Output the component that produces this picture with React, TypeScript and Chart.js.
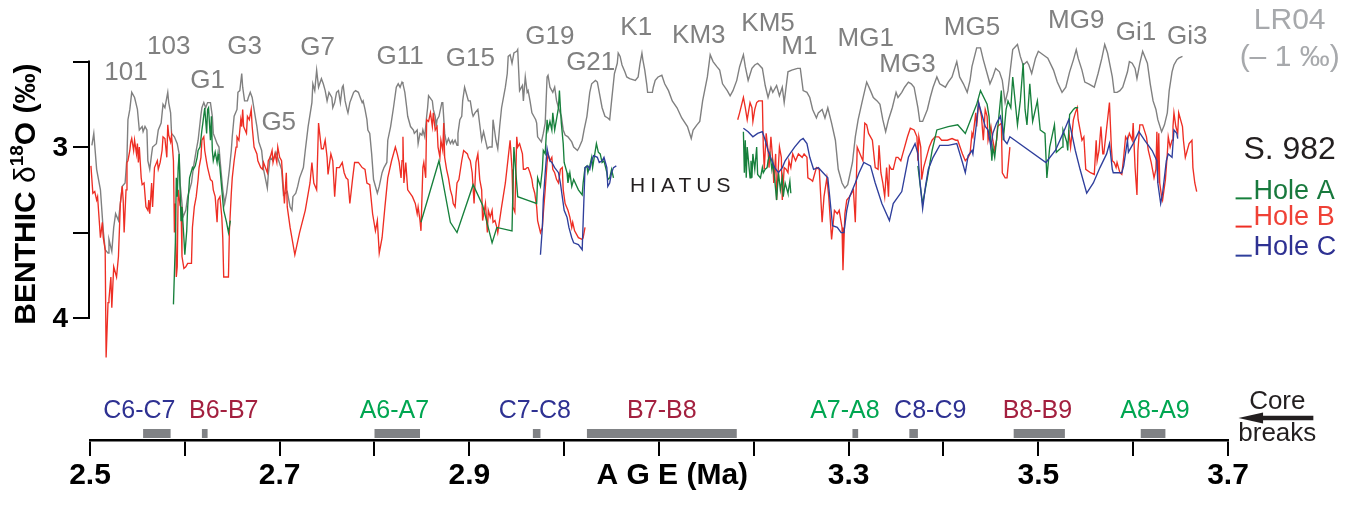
import React, { useEffect, useRef } from 'react';
import { Chart, registerables } from 'chart.js';

Chart.register(...registerables);

const FONT = '"Liberation Sans", Arial, Helvetica, sans-serif';

// ---------- axes ----------
const xTickValues = [2.5, 2.6, 2.7, 2.8, 2.9, 3.0, 3.1, 3.2, 3.3, 3.4, 3.5, 3.6, 3.7];
const xTickLabels = ['2.5', '2.7', '2.9', '3.3', '3.5', '3.7'];
const yTickValues = [2.5, 3, 3.5, 4];
const yTickLabels = ['', '3', '', '4'];

// ---------- LR04 stack (-1 permil) ----------
const lr04Age = [2.502,2.504,2.507,2.511,2.514,2.516,2.519,2.520,2.523,2.525,
2.527,2.530,2.532,2.534,2.537,2.539,2.540,2.542,2.544,2.547,
2.550,2.552,2.555,2.556,2.558,2.560,2.561,2.563,2.565,2.566,
2.570,2.572,2.575,2.577,2.579,2.582,2.583,2.585,2.586,2.589,
2.592,2.594,2.595,2.597,2.598,2.601,2.603,2.607,2.609,2.612,
2.614,2.617,2.618,2.620,2.622,2.624,2.627,2.629,2.630,2.632,
2.634,2.636,2.638,2.640,2.642,2.644,2.647,2.649,2.650,2.652,
2.655,2.656,2.658,2.660,2.661,2.663,2.666,2.667,2.669,2.671,
2.673,2.676,2.678,2.681,2.683,2.687,2.688,2.690,2.693,2.696,
2.699,2.702,2.704,2.708,2.711,2.713,2.714,2.717,2.719,2.721,
2.725,2.727,2.730,2.734,2.735,2.737,2.739,2.741,2.744,2.746,
2.748,2.750,2.752,2.755,2.756,2.758,2.760,2.762,2.764,2.766,
2.767,2.769,2.771,2.772,2.774,2.776,2.778,2.780,2.783,2.785,
2.787,2.788,2.790,2.792,2.793,2.795,2.797,2.799,2.803,2.805,
2.808,2.810,2.813,2.814,2.817,2.820,2.823,2.825,2.827,2.829,
2.830,2.832,2.834,2.835,2.838,2.841,2.842,2.845,2.846,2.848,
2.850,2.851,2.853,2.855,2.856,2.857,2.861,2.862,2.864,2.865,
2.866,2.868,2.871,2.872,2.874,2.876,2.878,2.880,2.882,2.883,
2.885,2.887,2.888,2.890,2.892,2.893,2.895,2.898,2.899,2.901,
2.903,2.904,2.906,2.909,2.913,2.915,2.919,2.921,2.924,2.925,
2.928,2.930,2.932,2.934,2.938,2.940,2.941,2.943,2.945,2.947,
2.950,2.951,2.953,2.956,2.957,2.959,2.961,2.962,2.964,2.966,
2.968,2.970,2.971,2.972,2.976,2.978,2.980,2.982,2.983,2.985,
2.987,2.988,2.990,2.992,2.994,2.997,2.999,3.001,3.004,3.008,
3.010,3.014,3.016,3.019,3.021,3.024,3.027,3.029,3.033,3.035,
3.037,3.040,3.043,3.046,3.048,3.050,3.053,3.056,3.057,3.059,
3.061,3.064,3.066,3.069,3.075,3.078,3.080,3.082,3.083,3.085,
3.087,3.088,3.093,3.094,3.096,3.099,3.103,3.106,3.110,3.114,
3.119,3.124,3.130,3.134,3.136,3.140,3.143,3.146,3.151,3.154,
3.157,3.161,3.164,3.167,3.172,3.175,3.178,3.182,3.185,3.189,
3.191,3.194,3.198,3.201,3.204,3.209,3.212,3.215,3.218,3.220,
3.224,3.227,3.230,3.232,3.236,3.240,3.246,3.249,3.252,3.256,
3.259,3.262,3.266,3.268,3.272,3.275,3.278,3.282,3.286,3.289,
3.293,3.296,3.299,3.304,3.307,3.310,3.314,3.319,3.323,3.326,
3.330,3.333,3.336,3.339,3.342,3.346,3.350,3.352,3.356,3.359,
3.363,3.366,3.369,3.373,3.375,3.378,3.383,3.386,3.389,3.393,
3.396,3.402,3.405,3.409,3.414,3.417,3.421,3.425,3.428,3.430,
3.435,3.439,3.442,3.446,3.449,3.452,3.455,3.459,3.462,3.465,
3.468,3.470,3.473,3.478,3.481,3.484,3.488,3.490,3.493,3.497,
3.500,3.505,3.510,3.516,3.520,3.525,3.529,3.533,3.537,3.540,
3.542,3.546,3.549,3.553,3.559,3.563,3.567,3.570,3.573,3.578,
3.580,3.583,3.586,3.589,3.594,3.596,3.599,3.602,3.604,3.607,
3.610,3.615,3.618,3.621,3.624,3.626,3.630,3.633,3.636,3.638,
3.641,3.643,3.646,3.648,3.652];
const lr04Val = [2.99,2.92,3.13,3.25,3.49,3.60,3.62,3.54,3.61,3.47,
3.39,3.43,3.33,3.23,3.21,3.06,2.84,2.78,2.68,2.71,
2.78,2.90,2.88,2.91,2.88,2.90,3.08,3.13,3.04,3.00,
2.98,2.90,2.86,2.75,2.77,2.68,2.74,2.80,2.92,2.94,
2.98,3.04,3.21,3.33,3.41,3.37,3.29,3.21,3.12,3.02,
2.96,2.81,2.77,2.74,2.77,2.74,2.74,2.82,2.92,2.95,
2.98,3.00,3.13,3.25,3.33,3.27,3.13,3.02,2.94,2.82,
2.78,2.68,2.67,2.57,2.65,2.73,2.73,2.71,2.68,2.71,
2.78,2.88,2.97,3.02,3.13,3.24,3.16,3.06,3.08,3.03,
3.08,3.13,3.28,3.26,3.35,3.37,3.29,3.27,3.23,3.18,
3.12,3.02,2.88,2.74,2.63,2.67,2.55,2.65,2.60,2.63,
2.67,2.73,2.68,2.71,2.77,2.74,2.68,2.67,2.74,2.65,
2.64,2.73,2.78,2.80,2.74,2.71,2.68,2.67,2.68,2.71,
2.74,2.73,2.78,2.84,2.90,2.92,3.04,3.19,3.27,3.23,
3.15,3.12,3.09,2.96,2.88,2.77,2.65,2.63,2.65,2.62,
2.63,2.68,2.77,2.82,2.88,2.90,2.92,2.90,2.98,2.92,
2.93,2.90,2.94,2.82,2.77,2.70,2.73,2.78,2.82,2.88,
2.84,2.82,2.74,2.74,2.92,2.98,2.95,2.98,2.96,2.98,
2.96,2.99,2.92,2.84,2.82,2.73,2.65,2.71,2.73,2.73,
2.80,2.82,2.80,2.78,2.96,2.91,3.01,3.00,3.00,2.84,
2.96,3.01,2.88,2.77,2.65,2.57,2.47,2.46,2.51,2.45,
2.44,2.43,2.67,2.64,2.73,2.59,2.68,2.67,2.73,2.80,
2.82,2.84,2.86,2.94,2.97,2.92,2.86,2.59,2.58,2.65,
2.67,2.68,2.65,2.73,2.77,2.82,2.90,2.93,2.94,2.97,
3.00,3.02,3.00,2.96,2.90,2.82,2.68,2.63,2.61,2.62,
2.68,2.77,2.82,2.83,2.84,2.73,2.57,2.51,2.45,2.47,
2.52,2.56,2.59,2.60,2.61,2.59,2.51,2.45,2.49,2.55,
2.63,2.68,2.68,2.65,2.61,2.59,2.58,2.63,2.67,2.73,
2.77,2.83,2.88,2.95,2.90,2.87,2.85,2.73,2.59,2.46,
2.50,2.53,2.55,2.63,2.67,2.70,2.67,2.61,2.53,2.46,
2.53,2.61,2.54,2.52,2.51,2.54,2.64,2.71,2.65,2.68,
2.64,2.70,2.65,2.74,2.56,2.55,2.54,2.54,2.67,2.68,
2.71,2.78,2.83,2.80,2.78,2.83,2.77,2.86,2.96,3.13,
3.21,3.24,3.22,3.09,2.94,2.84,2.74,2.62,2.67,2.71,
2.73,2.75,2.84,2.91,2.84,2.77,2.68,2.71,2.68,2.65,
2.62,2.63,2.65,2.77,2.85,2.85,2.78,2.71,2.65,2.59,
2.63,2.65,2.62,2.59,2.50,2.59,2.63,2.68,2.61,2.53,
2.42,2.42,2.49,2.57,2.63,2.59,2.54,2.56,2.61,2.74,
2.67,2.57,2.43,2.40,2.47,2.52,2.50,2.52,2.57,2.48,
2.44,2.46,2.48,2.55,2.62,2.68,2.65,2.56,2.49,2.43,
2.48,2.55,2.62,2.63,2.65,2.57,2.48,2.40,2.45,2.59,
2.68,2.68,2.67,2.65,2.56,2.50,2.51,2.54,2.60,2.51,
2.44,2.51,2.63,2.73,2.78,2.84,2.91,2.87,2.80,2.67,
2.56,2.52,2.49,2.48,2.47];

// ---------- Site 982, Hole A (core segments) ----------
const holeA1Age = [2.588,2.590,2.591,2.592,2.593,2.594,2.595,2.596,2.597,2.599,
2.600,2.602,2.603,2.605,2.608,2.609,2.611,2.613,2.614,2.616,
2.618,2.619,2.621,2.623,2.624,2.625,2.627,2.628,2.629,2.630,
2.632,2.634,2.635,2.636,2.637,2.639,2.641,2.644,2.646,2.648];
const holeA1Val = [3.92,3.56,3.18,3.29,3.12,3.04,3.25,3.43,3.35,3.53,
3.63,3.49,3.35,3.18,3.12,3.13,3.11,3.06,3.02,3.00,
2.90,2.86,2.77,2.92,2.78,2.77,2.96,2.82,3.02,3.08,
3.03,3.09,3.04,3.08,3.12,3.25,3.37,3.44,3.50,3.43];
const holeA2Age = [2.849,2.868,2.880,2.887,2.904,2.914,2.924,2.929,2.945,2.947,
2.951,2.961,2.971,2.972,2.975,2.977,2.978,2.980,2.982,2.983,
2.985,2.987,2.988,2.990,2.994,2.995,2.997,2.999,3.000,3.003,
3.004,3.006,3.008,3.010,3.015,3.019,3.020,3.022,3.024,3.025,
3.027,3.029,3.030,3.034,3.036,3.038,3.040,3.042,3.045,3.046,
3.048,3.050,3.052];
const holeA2Val = [3.44,3.08,3.44,3.50,3.22,3.34,3.56,3.47,3.49,3.00,
3.29,3.31,3.33,3.18,3.23,3.13,3.02,3.04,2.84,2.90,
2.85,2.90,2.80,2.90,2.77,2.67,2.86,2.98,3.09,3.15,
3.21,3.15,3.23,3.19,3.25,3.28,3.21,3.12,3.11,3.15,
3.11,3.06,3.12,2.98,3.03,3.04,3.09,3.08,3.15,3.19,
3.18,3.13,3.18];
const holeA3Age = [3.189,3.190,3.191,3.192,3.193,3.195,3.196,3.197,3.198,3.199,
3.201,3.203,3.204,3.207,3.209,3.210,3.212,3.214,3.215,3.217,
3.219,3.220,3.222,3.224,3.226,3.228,3.230,3.231,3.233,3.235,
3.236,3.238,3.239];
const holeA3Val = [2.91,3.15,2.96,3.18,3.00,3.12,3.18,3.08,3.18,3.04,
3.13,3.00,3.16,3.18,3.12,3.15,3.13,3.12,3.08,3.04,
3.13,3.09,3.19,3.31,3.15,3.25,3.18,3.29,3.21,3.25,
3.27,3.20,3.27];
const holeA4Age = [3.373,3.376,3.378,3.383,3.388,3.393,3.405,3.415,3.423,3.430,
3.435,3.439,3.446,3.448,3.451,3.452,3.454,3.457,3.461,3.463,
3.466,3.468,3.471,3.473,3.478,3.481,3.484,3.486,3.488,3.491,
3.494,3.499,3.502,3.507,3.509,3.512,3.517,3.519,3.525,3.526,
3.530,3.531,3.533,3.537,3.539,3.542];
const holeA4Val = [3.11,3.25,3.33,3.18,3.02,2.90,2.88,2.87,2.92,2.82,
2.75,2.67,2.75,2.82,3.08,3.00,3.06,2.90,2.67,2.96,
2.78,2.73,2.77,2.59,2.87,2.73,2.51,2.78,2.87,2.63,
2.85,2.73,2.90,2.92,3.18,3.00,2.87,3.03,3.00,2.90,
2.97,3.02,2.81,2.78,2.77,2.77];

// ---------- Site 982, Hole B ----------
const holeB1Age = [2.501,2.503,2.505,2.507,2.508,2.511,2.513,2.514,2.516,2.517,
2.519,2.520,2.522,2.523,2.525,2.528,2.530,2.532,2.534,2.535,
2.536,2.538,2.539,2.540,2.542,2.543,2.544,2.546,2.547,2.549,
2.550,2.551,2.552,2.554,2.555,2.557,2.559,2.561,2.562,2.563,
2.565,2.566,2.568,2.571,2.572,2.574,2.576,2.577,2.579,2.581,
2.582,2.583,2.585,2.586,2.588,2.589,2.590,2.591,2.592,2.593,
2.595,2.596,2.597,2.599,2.601,2.603,2.607,2.608,2.610,2.612,
2.614,2.615,2.617,2.618,2.620,2.621,2.623,2.624,2.627,2.629,
2.630,2.632,2.634,2.635,2.637,2.639,2.640,2.641,2.644,2.646,
2.647,2.649,2.650,2.652,2.654,2.655,2.657,2.659,2.660,2.661,
2.662,2.665,2.666,2.668,2.670,2.671,2.673,2.676,2.677,2.680,
2.682,2.683,2.687,2.688,2.690,2.692,2.693,2.695,2.697,2.698,
2.700,2.702,2.705,2.707,2.708,2.711,2.716,2.721,2.727,2.732,
2.734,2.736,2.739,2.741,2.744,2.746,2.748,2.750,2.751,2.754,
2.756,2.758,2.760,2.763,2.766,2.768,2.770,2.772,2.774,2.777,
2.779,2.783,2.787,2.790,2.792,2.795,2.798,2.801,2.803,2.805,
2.808,2.811,2.814,2.818,2.822,2.824,2.826,2.828,2.829,2.830,
2.831,2.833,2.835,2.840,2.843,2.845,2.846,2.848,2.849,2.851,
2.852,2.854,2.855,2.857,2.859,2.861,2.862,2.864,2.866,2.867,
2.869,2.870,2.872,2.873,2.874,2.876,2.878,2.880,2.882,2.883,
2.885,2.887,2.889,2.892,2.894,2.898,2.899,2.901,2.903,2.905,
2.907,2.909,2.911,2.913,2.914,2.917,2.919,2.920,2.922,2.924,
2.925,2.927,2.929,2.930,2.934,2.938,2.941,2.943,2.945,2.946,
2.948,2.950,2.951,2.953,2.956,2.957,2.959,2.961,2.962,2.964,
2.966,2.967,2.969,2.971,2.972,2.975,2.977,2.978,2.980,2.982,
2.983,2.985,2.987,2.988,2.990,2.992,2.994,2.996,2.998,2.999,
3.001,3.004,3.006,3.008,3.009,3.011,3.015,3.019,3.020,3.022];
const holeB1Val = [3.11,3.27,3.26,3.31,3.29,3.53,3.44,3.53,3.60,4.23,
3.91,3.89,3.76,3.94,3.70,3.76,3.64,3.33,3.23,3.31,
3.50,3.25,3.09,3.08,3.02,2.97,2.95,3.02,2.96,3.04,
2.98,3.09,3.00,3.18,3.22,3.21,3.35,3.37,3.31,3.39,
3.21,3.35,3.12,3.08,3.13,3.09,3.02,2.94,2.95,3.06,
2.87,2.93,2.97,2.93,3.08,3.50,3.33,3.76,3.70,3.25,
3.34,3.35,3.64,3.71,3.70,3.68,3.68,3.47,3.35,3.29,
3.19,3.12,3.06,2.96,2.94,3.02,3.09,3.12,3.19,3.20,
3.25,3.29,3.44,3.31,3.29,3.41,3.53,3.76,3.76,3.76,
3.49,3.27,3.18,3.08,3.00,2.94,2.96,2.84,2.88,2.78,
2.88,2.92,2.82,2.84,2.78,2.88,3.00,3.04,3.08,3.12,
3.13,3.09,3.15,3.08,3.06,3.02,3.09,3.04,3.09,3.00,
3.06,3.08,3.33,3.15,3.35,3.47,3.63,3.50,3.37,3.21,
3.09,3.21,3.25,2.86,3.01,3.01,2.96,3.06,3.16,3.04,
3.08,3.29,3.12,3.12,3.09,3.15,3.18,3.19,3.33,3.18,
3.09,3.09,3.12,3.13,3.21,3.22,3.39,3.49,3.43,3.62,
3.53,3.35,3.18,3.08,3.00,3.04,3.09,3.18,3.08,2.94,
3.21,3.09,3.25,3.29,3.33,3.39,3.35,3.43,3.49,3.12,
3.09,3.18,2.84,2.85,2.80,2.88,2.80,2.90,2.88,3.00,
3.06,2.96,3.02,2.86,3.06,3.13,3.18,3.25,3.29,3.33,
3.35,3.21,3.19,3.08,3.02,3.04,3.06,3.08,3.15,3.33,
3.09,3.04,3.19,3.25,3.43,3.33,3.50,3.37,3.41,3.37,
3.44,3.43,3.47,3.50,3.35,3.21,3.06,2.96,3.13,3.35,
3.38,2.94,3.00,2.98,3.04,3.13,3.13,3.12,3.12,3.15,
3.19,3.23,3.27,3.35,3.43,3.50,3.47,3.39,3.25,3.09,
3.04,3.08,3.06,3.13,3.15,3.19,3.21,3.13,3.12,3.25,
3.33,3.37,3.41,3.47,3.44,3.49,3.53,3.54,3.53,3.47];
const holeB2Age = [3.183,3.185,3.189,3.191,3.193,3.196,3.198,3.199,3.201,3.203,
3.205,3.209,3.210,3.211,3.213,3.215,3.216,3.218,3.220,3.221,
3.223,3.224,3.227,3.229,3.230,3.232,3.234,3.236,3.237,3.239,
3.241,3.244,3.247,3.251,3.253,3.256,3.257,3.260,3.262,3.266,
3.269,3.272,3.274,3.277,3.279,3.282,3.285,3.288,3.290,3.293,
3.294,3.296,3.298,3.301,3.305,3.307,3.309,3.312,3.315,3.317,
3.319,3.321,3.325,3.328,3.331,3.332,3.334,3.336,3.338,3.340,
3.342,3.343,3.345,3.347,3.350,3.352,3.355,3.357,3.362,3.365,
3.369,3.372,3.373,3.374,3.376,3.377,3.379,3.383,3.385,3.388,
3.391,3.395,3.398,3.404,3.409,3.413,3.415,3.420,3.423,3.426,
3.428,3.430,3.431,3.434,3.435,3.437,3.440,3.442,3.444,3.446,
3.447,3.450,3.452,3.454,3.456,3.457,3.461,3.462,3.465,3.467,
3.470];
const holeB2Val = [2.84,2.80,2.71,2.77,2.84,2.74,2.77,2.85,2.78,2.74,
2.73,2.73,3.00,3.13,2.92,3.02,3.12,2.94,3.08,3.21,
3.04,3.31,3.00,3.06,3.31,3.12,3.13,3.15,3.08,3.12,
3.04,3.08,3.04,3.06,3.04,3.06,3.18,3.19,3.20,3.12,
3.13,3.44,3.29,3.18,3.29,3.54,3.37,3.39,3.37,3.47,
3.72,3.39,3.31,3.29,3.25,3.44,3.00,3.04,3.08,2.86,
2.87,2.92,2.96,3.12,3.13,2.99,3.15,3.21,3.29,3.12,
3.29,3.11,3.13,3.13,3.06,3.06,3.08,3.04,2.94,2.89,
2.90,2.94,3.08,2.94,3.00,3.19,3.12,3.04,3.00,2.96,
2.94,2.94,2.96,2.96,2.95,2.96,2.96,3.04,3.08,3.06,
3.04,2.92,2.94,2.80,2.88,2.74,2.82,2.96,2.78,2.82,
2.96,2.88,2.96,3.02,2.96,2.88,2.86,3.15,3.18,3.18,
3.00];
const holeB3Age = [3.532,3.534,3.537,3.539,3.541,3.542,3.544,3.546,3.548,3.550,
3.555,3.559,3.561,3.562,3.564,3.566,3.568,3.569,3.571,3.573,
3.575,3.577,3.578,3.580,3.582,3.583,3.586,3.588,3.590,3.592,
3.594,3.596,3.599,3.600,3.602,3.604,3.605,3.607,3.610,3.614,
3.616,3.619,3.621,3.622,3.624,3.625,3.626,3.627,3.628,3.630,
3.631,3.634,3.636,3.637,3.639,3.641,3.642,3.643,3.645,3.647,
3.648,3.652,3.653,3.655,3.657,3.659,3.662,3.663,3.665,3.667];
const holeB3Val = [2.90,3.00,2.84,2.80,2.77,2.84,2.90,2.96,2.94,3.13,
3.15,3.16,2.96,3.08,3.02,2.88,3.04,3.04,2.94,2.84,
2.74,3.00,3.08,3.09,3.12,3.09,3.15,3.16,3.06,2.94,
2.96,2.92,2.96,2.86,3.12,3.28,3.02,2.87,2.87,2.94,
3.02,3.09,3.15,3.18,3.13,2.91,3.21,2.92,3.21,3.29,
3.31,3.19,3.04,2.94,3.00,2.96,2.88,2.80,2.88,2.92,
2.80,2.88,2.96,3.06,3.02,2.98,2.96,3.12,3.21,3.26];

// ---------- Site 982, Hole C ----------
const holeC1Age = [2.975,2.977,2.978,2.980,2.982,2.983,2.985,2.987,2.990,2.994,
2.996,2.998,3.000,3.003,3.005,3.008,3.010,3.015,3.019,3.020,
3.022,3.025,3.027,3.029,3.031,3.035,3.037,3.040,3.042,3.045,
3.046,3.048,3.050,3.052,3.055];
const holeC1Val = [3.63,3.47,3.31,3.15,3.01,3.04,3.08,3.09,3.12,3.15,
3.21,3.29,3.37,3.41,3.47,3.53,3.56,3.57,3.60,3.44,
3.12,3.11,3.13,3.08,3.05,3.06,3.09,3.08,3.06,3.12,
3.23,3.21,3.15,3.12,3.11];
const holeC2Age = [3.189,3.194,3.199,3.204,3.209,3.212,3.215,3.219,3.222,3.226,
3.230,3.233,3.238,3.243,3.249,3.252,3.256,3.259,3.263,3.268,
3.273,3.278,3.280,3.283,3.288,3.292,3.295,3.298,3.301,3.307,
3.311,3.316,3.323,3.328,3.335,3.343,3.347,3.356,3.363,3.370,
3.373,3.375,3.378,3.381,3.384,3.389,3.396,3.405,3.414,3.420,
3.423,3.426,3.430,3.431,3.434,3.437,3.441,3.444,3.447,3.450,
3.452,3.456,3.460,3.462,3.464,3.467,3.470,3.508,3.518,3.526,
3.532,3.536,3.539,3.544,3.551,3.558,3.565,3.572,3.575,3.578,
3.579,3.584,3.588,3.590,3.594,3.595,3.600,3.606,3.612,3.620,
3.625,3.626,3.629,3.631,3.635,3.637,3.641,3.643,3.646,3.647];
const holeC2Val = [2.89,2.91,2.94,2.92,2.91,2.96,3.02,3.08,3.12,3.15,
3.12,3.08,3.04,3.00,2.96,2.95,2.98,3.06,3.13,3.12,
3.15,3.18,3.29,3.46,3.47,3.50,3.50,3.37,3.29,3.21,
3.15,3.09,3.11,3.21,3.33,3.43,3.33,3.26,3.06,2.98,
3.04,3.19,3.36,3.23,3.13,3.06,2.99,2.99,2.98,3.09,
3.15,3.05,3.02,3.04,2.90,2.74,2.82,2.88,2.90,3.00,
2.92,2.86,2.82,2.88,2.96,2.98,2.94,3.09,3.02,2.92,
2.84,2.94,3.02,3.13,3.27,3.21,3.12,3.04,2.98,3.13,
3.15,3.15,3.15,3.11,2.96,3.03,2.98,2.91,2.96,3.02,
3.08,3.21,3.33,3.27,3.08,3.04,3.06,2.90,2.92,2.95];

// ---------- core breaks ----------
const breakNames = ['C6-C7', 'B6-B7', 'A6-A7', 'C7-C8', 'B7-B8', 'A7-A8', 'C8-C9', 'B8-B9', 'A8-A9'];
const breakHole = ['C', 'B', 'A', 'C', 'B', 'A', 'C', 'B', 'A'];
const breakStart = [2.556, 2.618, 2.800, 2.967, 3.024, 3.304, 3.364, 3.474, 3.608];
const breakEnd = [2.585, 2.624, 2.848, 2.975, 3.182, 3.310, 3.373, 3.528, 3.634];

// ---------- isotope event names ----------
const eventNames = ['101', '103', 'G1', 'G3', 'G5', 'G7', 'G11', 'G15', 'G19', 'G21', 'K1', 'KM3', 'KM5', 'M1', 'MG1', 'MG3', 'MG5', 'MG9', 'Gi1', 'Gi3'];

// ---------- layout (positions of annotations, in axis units) ----------
const eventLabelAge = [2.538, 2.583, 2.624, 2.663, 2.699, 2.740, 2.827, 2.901, 2.985, 3.028, 3.076, 3.142, 3.215, 3.248, 3.318, 3.362, 3.430, 3.540, 3.603, 3.657];
const eventLabelLevel = [2.567, 2.415, 2.614, 2.415, 2.860, 2.421, 2.474, 2.485, 2.357, 2.509, 2.304, 2.351, 2.281, 2.415, 2.368, 2.520, 2.304, 2.263, 2.333, 2.357];
const breakLabelAge = [2.552, 2.641, 2.821, 2.969, 3.103, 3.296, 3.386, 3.499, 3.623];
const BREAK_LEVEL = 4.675;
const BREAK_LABEL_LEVEL = 4.544;
const Y_MIN = 2.14;
const Y_MAX = 4.713;

const HOLE_LINE: Record<string, string> = { A: '#17803c', B: '#ee2e24', C: '#2f3f9c' };
const HOLE_TEXT: Record<string, string> = { A: '#00a651', B: '#a3203f', C: '#2e3192' };
const LEGEND_TEXT: Record<string, string> = { A: '#18793d', B: '#ef4136', C: '#2e3192' };
const GREY = '#808080';

type Pt = { x: number; y: number | null };
function segData(segs: [number[], number[]][]): Pt[] {
  const out: Pt[] = [];
  segs.forEach(([a, v], i) => {
    const n = Math.min(a.length, v.length);
    for (let k = 0; k < n; k++) out.push({ x: a[k], y: v[k] });
    if (i < segs.length - 1) out.push({ x: a[n - 1], y: null });
  });
  return out;
}

function breakData(): Pt[] {
  const out: Pt[] = [];
  breakStart.forEach((s, i) => {
    out.push({ x: s, y: BREAK_LEVEL }, { x: breakEnd[i], y: BREAK_LEVEL }, { x: breakEnd[i], y: null });
  });
  return out;
}

const annotations = {
  id: 'annotations',
  afterDraw(chart: any) {
    const ctx: CanvasRenderingContext2D = chart.ctx;
    const xs = chart.scales.x;
    const ys = chart.scales.y;
    const px = (v: number) => xs.getPixelForValue(v);
    const py = (v: number) => ys.getPixelForValue(v);
    const area = chart.chartArea;
    ctx.save();

    // y-axis spine between first and last tick
    ctx.strokeStyle = '#000';
    ctx.lineWidth = 2;
    ctx.beginPath();
    ctx.moveTo(area.left - 1, py(yTickValues[0]) - 1);
    ctx.lineTo(area.left - 1, py(yTickValues[yTickValues.length - 1]) + 1);
    ctx.stroke();

    // y tick labels
    ctx.fillStyle = '#000';
    ctx.font = `bold 28px ${FONT}`;
    ctx.textAlign = 'right';
    ctx.textBaseline = 'middle';
    yTickValues.forEach((v, i) => {
      if (yTickLabels[i]) ctx.fillText(yTickLabels[i], area.left - 22, py(v) + 1);
    });

    // y-axis title (rotated)
    ctx.save();
    ctx.translate(area.left - 55, py(3.275));
    ctx.rotate(-Math.PI / 2);
    ctx.fillStyle = '#000';
    ctx.textBaseline = 'alphabetic';
    ctx.textAlign = 'left';
    const parts = [
      { t: 'BENTHIC ', f: `bold 30px ${FONT}`, dy: 0 },
      { t: 'δ', f: `30px ${FONT}`, dy: 0 },
      { t: '18', f: `bold 19px ${FONT}`, dy: -12 },
      { t: 'O (‰)', f: `bold 30px ${FONT}`, dy: 0 },
    ];
    let total = 0;
    parts.forEach((p) => { ctx.font = p.f; total += ctx.measureText(p.t).width; });
    let cx = -total / 2;
    parts.forEach((p) => { ctx.font = p.f; ctx.fillText(p.t, cx, p.dy); cx += ctx.measureText(p.t).width; });
    ctx.restore();

    ctx.textAlign = 'center';
    ctx.textBaseline = 'middle';

    // isotope stage labels
    ctx.font = `26px ${FONT}`;
    ctx.fillStyle = GREY;
    eventNames.forEach((n, i) => ctx.fillText(n, px(eventLabelAge[i]), py(eventLabelLevel[i])));

    // LR04 label
    ctx.font = `30px ${FONT}`;
    ctx.fillStyle = '#a7a9ac';
    ctx.fillText('LR04', px(3.765), py(2.263));
    ctx.fillText('(– 1 ‰)', px(3.765), py(2.48));

    // site label
    ctx.font = `32px ${FONT}`;
    ctx.fillStyle = '#231f20';
    ctx.fillText('S. 982', px(3.765), py(3.018));

    // legend
    const legend = [
      { h: 'A', name: 'Hole A', level: 3.263, line: 3.30 },
      { h: 'B', name: 'Hole B', level: 3.415, line: 3.465 },
      { h: 'C', name: 'Hole C', level: 3.585, line: 3.635 },
    ];
    ctx.font = `27px ${FONT}`;
    ctx.textAlign = 'left';
    legend.forEach((l) => {
      ctx.strokeStyle = HOLE_LINE[l.h];
      ctx.lineWidth = 2;
      ctx.beginPath();
      ctx.moveTo(px(3.708), py(l.line));
      ctx.lineTo(px(3.725), py(l.line));
      ctx.stroke();
      ctx.fillStyle = LEGEND_TEXT[l.h];
      ctx.fillText(l.name, px(3.727), py(l.level));
    });

    // hiatus
    ctx.textAlign = 'center';
    ctx.font = `21px ${FONT}`;
    ctx.fillStyle = '#231f20';
    try { (ctx as any).letterSpacing = '5px'; } catch (e) { /* ignore */ }
    ctx.fillText('HIATUS', px(3.125), py(3.23));
    try { (ctx as any).letterSpacing = '0px'; } catch (e) { /* ignore */ }

    // core break labels
    ctx.font = `25px ${FONT}`;
    breakNames.forEach((n, i) => {
      ctx.fillStyle = HOLE_TEXT[breakHole[i]];
      ctx.fillText(n, px(breakLabelAge[i]), py(BREAK_LABEL_LEVEL));
    });

    // "Core breaks" with arrow
    ctx.fillStyle = '#231f20';
    ctx.font = `26px ${FONT}`;
    ctx.fillText('Core', px(3.752), py(4.491));
    ctx.fillText('breaks', px(3.752), py(4.678));
    const ay = py(4.585);
    ctx.strokeStyle = '#231f20';
    ctx.lineWidth = 4.5;
    ctx.beginPath();
    ctx.moveTo(px(3.733), ay);
    ctx.lineTo(px(3.790), ay);
    ctx.stroke();
    ctx.beginPath();
    ctx.moveTo(px(3.711), ay);
    ctx.lineTo(px(3.737), ay - 5.5);
    ctx.lineTo(px(3.737), ay + 5.5);
    ctx.closePath();
    ctx.fill();

    // x-axis title
    ctx.fillStyle = '#000';
    ctx.font = `bold 30px ${FONT}`;
    ctx.fillText('A G E (Ma)', px(3.114), py(4.924));

    ctx.restore();
  },
};

export default function App() {
  const ref = useRef<HTMLCanvasElement>(null);
  useEffect(() => {
    const canvas = ref.current;
    if (!canvas) return;
    const lineBase = { pointRadius: 0, pointHoverRadius: 0, borderWidth: 1.35, tension: 0, fill: false, spanGaps: false };
    const chart = new Chart(canvas, {
      type: 'line',
      data: {
        datasets: [
          { ...lineBase, label: 'Hole C', borderColor: HOLE_LINE.C, data: segData([[holeC1Age, holeC1Val], [holeC2Age, holeC2Val]]) },
          { ...lineBase, label: 'Hole A', borderColor: HOLE_LINE.A, data: segData([[holeA1Age, holeA1Val], [holeA2Age, holeA2Val], [holeA3Age, holeA3Val], [holeA4Age, holeA4Val]]) },
          { ...lineBase, label: 'Hole B', borderColor: HOLE_LINE.B, data: segData([[holeB1Age, holeB1Val], [holeB2Age, holeB2Val], [holeB3Age, holeB3Val]]) },
          { ...lineBase, label: 'LR04', borderColor: GREY, borderWidth: 1.4, data: segData([[lr04Age, lr04Val]]) },
          { ...lineBase, label: 'Core breaks', borderColor: '#808285', borderWidth: 9, borderCapStyle: 'butt', data: breakData() },
        ] as any,
      },
      options: {
        animation: false,
        responsive: false,
        maintainAspectRatio: false,
        events: [],
        layout: { padding: { left: 0, right: 136, top: 0, bottom: 0 } },
        plugins: { legend: { display: false }, tooltip: { enabled: false }, title: { display: false } },
        scales: {
          x: {
            type: 'linear',
            position: 'bottom',
            min: 2.5,
            max: 3.7,
            afterBuildTicks: (s: any) => { s.ticks = xTickValues.map((v) => ({ value: v })); },
            afterFit: (s: any) => { s.height = 66; s.paddingLeft = 0; s.paddingRight = 0; },
            ticks: {
              autoSkip: false,
              maxRotation: 0,
              minRotation: 0,
              padding: 2,
              color: '#000',
              font: { family: FONT, size: 30, weight: 'bold' },
              callback: (v: any) => { const s = Number(v).toFixed(1); return xTickLabels.includes(s) ? s : ''; },
            },
            grid: { drawOnChartArea: false, drawTicks: true, tickLength: 16, color: '#000', lineWidth: 2 },
            border: { display: true, color: '#000', width: 2.5 },
          },
          y: {
            type: 'linear',
            position: 'left',
            reverse: true,
            min: Y_MIN,
            max: Y_MAX,
            afterBuildTicks: (s: any) => { s.ticks = yTickValues.map((v) => ({ value: v })); },
            afterFit: (s: any) => { s.width = 90; s.paddingTop = 0; s.paddingBottom = 0; },
            ticks: {
              autoSkip: false,
              padding: 5,
              color: '#000',
              font: { family: FONT, size: 12 },
              callback: () => '',
            },
            grid: { drawOnChartArea: false, drawTicks: true, tickLength: 17, color: '#000', lineWidth: 2 },
            border: { display: false },
          },
        },
      } as any,
      plugins: [annotations],
    });
    return () => chart.destroy();
  }, []);

  return (
    <div style={{ position: 'absolute', left: 0, top: 0, width: 1364, height: 506, background: '#fff' }}>
      <canvas ref={ref} width={1364} height={506} style={{ width: 1364, height: 506, display: 'block' }} />
    </div>
  );
}
